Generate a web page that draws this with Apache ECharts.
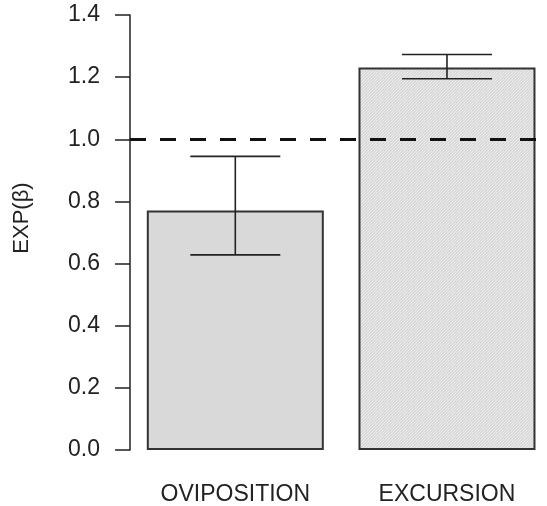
<!DOCTYPE html>
<html>
<head>
<meta charset="utf-8">
<script src="https://cdn.jsdelivr.net/npm/echarts@6/dist/echarts.min.js"></script>
<style>
  html, body { margin: 0; padding: 0; background: #fff; }
  #chart { width: 547px; height: 506px; }
</style>
</head>
<body>
<div id="chart"></div>
<script>
// Hazard ratios with confidence intervals
const categories = ['OVIPOSITION', 'EXCURSION'];
const ratios = [0.771, 1.231];
const lowerCI = [0.628, 1.195];
const upperCI = [0.945, 1.273];
const yTicks = [0, 0.2, 0.4, 0.6, 0.8, 1.0, 1.2, 1.4];
const referenceLevel = 1.0;

const FONT = "'Liberation Sans', Arial, sans-serif";
const INK = '#222';

// Fine "/" hatch used for the second bar
function makeHatch() {
  const s = 6;
  const c = document.createElement('canvas');
  c.width = s; c.height = s;
  const g = c.getContext('2d');
  g.fillStyle = '#d0d0d0';
  g.fillRect(0, 0, s, s);
  g.strokeStyle = '#eeeeee';
  g.lineWidth = 1.2;
  for (let k = -2 * s; k <= 2 * s; k += 3) {
    g.beginPath();
    g.moveTo(k, s);
    g.lineTo(k + s, 0);
    g.stroke();
  }
  return c;
}

const barFills = [
  '#d9d9d9',
  { image: makeHatch(), repeat: 'repeat' }
];

const chart = echarts.init(document.getElementById('chart'), null, { renderer: 'canvas' });

chart.setOption({
  animation: false,
  backgroundColor: '#fff',
  grid: { left: 130, right: 0, top: 15, bottom: 55.5, containLabel: false },
  xAxis: {
    type: 'value',
    min: -0.4975,
    max: 1.4725,
    splitLine: { show: false },
    axisLine: { show: false, onZero: false },
    axisTick: { show: false },
    axisLabel: {
      show: true,
      customValues: categories.map((c, i) => i),
      formatter: v => categories[Math.round(v)] || '',
      margin: 33,
      fontFamily: FONT,
      fontSize: 23,
      color: INK
    }
  },
  yAxis: {
    type: 'value',
    min: 0,
    max: 1.4,
    interval: 0.2,
    splitLine: { show: false },
    axisLine: { show: true, onZero: false, lineStyle: { color: INK, width: 1.5 } },
    axisTick: { show: true, length: 15, lineStyle: { color: INK, width: 1.5 } },
    axisLabel: {
      margin: 30,
      fontFamily: FONT,
      fontSize: 23,
      color: INK,
      formatter: v => yTicks.includes(Math.round(v * 10) / 10) ? v.toFixed(1) : ''
    }
  },
  graphic: [{
    type: 'text',
    x: 22,
    y: 218,
    rotation: Math.PI / 2,
    style: {
      text: 'EXP(β)',
      font: '22px ' + FONT,
      fill: INK,
      align: 'center',
      verticalAlign: 'middle'
    }
  }],
  series: [
    {
      type: 'bar',
      barWidth: 177,
      data: ratios.map((v, i) => ({
        value: [i, v],
        itemStyle: { color: barFills[i] }
      })),
      itemStyle: { borderColor: '#333', borderWidth: 2 },
      markLine: {
        silent: true,
        symbol: 'none',
        label: { show: false },
        lineStyle: { color: '#111', type: [16, 14], width: 3 },
        data: [{ yAxis: referenceLevel }]
      },
      z: 2
    },
    {
      type: 'custom',
      data: categories.map((c, i) => [i, lowerCI[i], upperCI[i]]),
      renderItem: (params, api) => {
        const i = api.value(0);
        const lo = api.coord([i, api.value(1)]);
        const hi = api.coord([i, api.value(2)]);
        const half = 45;
        const st = { stroke: INK, lineWidth: 1.6 };
        return {
          type: 'group',
          children: [
            { type: 'line', shape: { x1: lo[0], y1: lo[1], x2: hi[0], y2: hi[1] }, style: st },
            { type: 'line', shape: { x1: hi[0] - half, y1: hi[1], x2: hi[0] + half, y2: hi[1] }, style: st },
            { type: 'line', shape: { x1: lo[0] - half, y1: lo[1], x2: lo[0] + half, y2: lo[1] }, style: st }
          ]
        };
      },
      z: 3
    }
  ]
});
</script>
</body>
</html>
